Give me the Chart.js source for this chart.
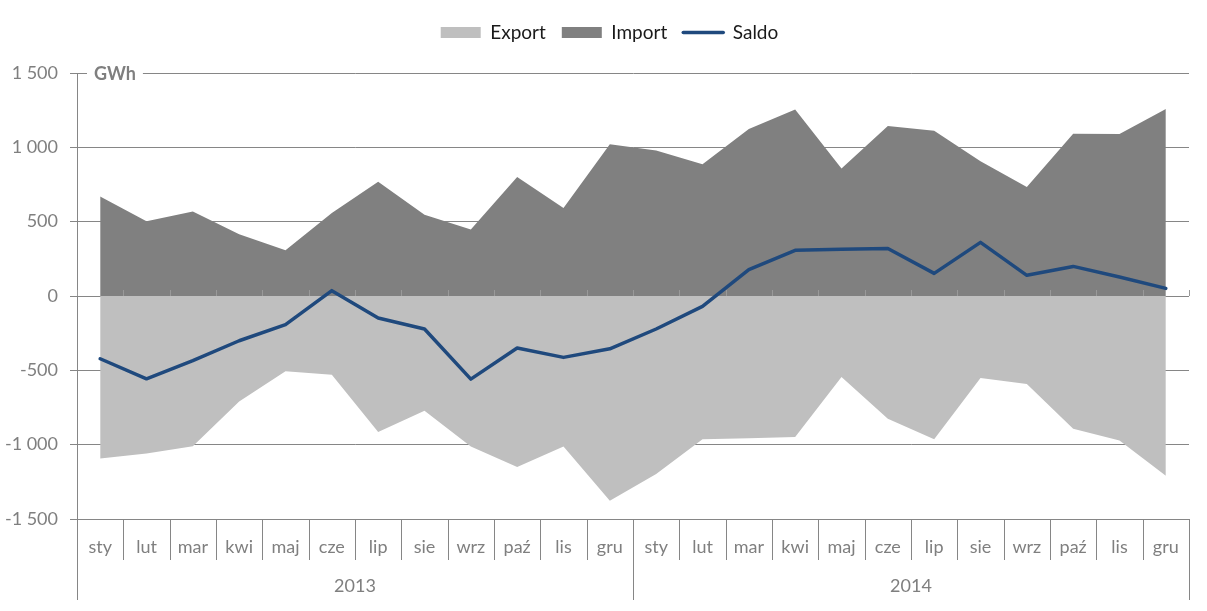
<!DOCTYPE html>
<html>
<head>
<meta charset="utf-8">
<script src="https://cdn.jsdelivr.net/npm/chart.js@4.4.1/dist/chart.umd.min.js"></script>
<style>
html,body{margin:0;padding:0;background:#fff;}
#wrap{width:1207px;height:611px;}
</style>
</head>
<body>
<div id="wrap"><canvas id="c" width="1207" height="611"></canvas></div>
<script>
// ---- data ----
const months = ['sty','lut','mar','kwi','maj','cze','lip','sie','wrz','paź','lis','gru'];
const years = ['2013','2014'];
const exportValues = [-1093,-1059,-1010,-709,-507,-530,-915,-772,-1012,-1151,-1012,-1378,
                      -1198,-963,-956,-948,-545,-826,-963,-552,-592,-893,-972,-1209];
const importValues = [670,502,569,415,307,559,769,547,448,801,592,1020,
                      978,886,1124,1254,857,1144,1112,906,733,1092,1090,1258];
const saldoValues = [-422,-557,-435,-301,-193,36,-148,-222,-559,-350,-413,-355,
                     -222,-70,177,307,314,320,152,361,139,199,128,51];
const yTickValues = [-1500,-1000,-500,0,500,1000,1500];
const yTickLabels = ['-1 500','-1 000','-500','0','500','1 000','1 500'];
const unitLabel = 'GWh';

const categories = years.flatMap(() => months);

const AXIS = '#868686';
const TEXT_GRAY = '#7f7f7f';
const FONT = 'Lato, "Open Sans", sans-serif';

const fixLegend = {
  id: 'fixLegend',
  beforeLayout(chart) {
    const lg = chart.legend;
    if (lg && !lg._patched) {
      const f = lg.fit;
      lg.fit = function () { f.call(this); this.height = 66; };
      lg._patched = true;
    }
  },
  afterLayout(chart) {
    const lg = chart.legend;
    if (lg) { lg.left += 15; lg.right += 15; }
  }
};

const decor = {
  id: 'decor',
  afterDatasetsDraw(chart) {
    const ctx = chart.ctx;
    const xs = chart.scales.x, ys = chart.scales.y;
    const n = categories.length;
    const step = (xs.getPixelForValue(1) - xs.getPixelForValue(0));
    const y0 = Math.round(ys.getPixelForValue(0));
    ctx.save();
    ctx.strokeStyle = '#999999';
    ctx.lineWidth = 1;
    for (let k = 0; k <= n; k++) {
      const bx = Math.round(xs.getPixelForValue(0) - step / 2 + k * step) + 0.5;
      ctx.beginPath(); ctx.moveTo(bx, y0 - 6); ctx.lineTo(bx, y0); ctx.stroke();
    }
    ctx.restore();
  },
  afterDraw(chart) {
    const ctx = chart.ctx;
    const xs = chart.scales.x, ys = chart.scales.y;
    const area = chart.chartArea;
    const n = categories.length;
    const step = (xs.getPixelForValue(1) - xs.getPixelForValue(0));
    const bottom = Math.round(area.bottom);
    ctx.save();
    ctx.strokeStyle = AXIS;
    ctx.lineWidth = 1;
    for (let k = 0; k <= n; k++) {
      const bx = Math.round(xs.getPixelForValue(0) - step / 2 + k * step) + 0.5;
      const isYear = (k % months.length === 0);
      ctx.beginPath();
      ctx.moveTo(bx, bottom);
      ctx.lineTo(bx, isYear ? 600 : 560);
      ctx.stroke();
    }
    // year labels
    ctx.fillStyle = TEXT_GRAY;
    ctx.font = '18px ' + FONT;
    ctx.textAlign = 'center';
    ctx.textBaseline = 'middle';
    years.forEach((yr, i) => {
      const a = xs.getPixelForValue(i * months.length);
      const b = xs.getPixelForValue((i + 1) * months.length - 1);
      ctx.fillText(yr, (a + b) / 2, 586);
    });
    // unit label on top gridline
    const yt = ys.getPixelForValue(1500);
    ctx.font = 'bold 18px ' + FONT;
    const w = ctx.measureText(unitLabel).width;
    ctx.fillStyle = '#ffffff';
    ctx.fillRect(area.left + 10, yt - 9, w + 14, 18);
    ctx.fillStyle = TEXT_GRAY;
    ctx.textAlign = 'left';
    ctx.fillText(unitLabel, area.left + 17, yt + 1);
    ctx.restore();
  }
};

Chart.defaults.font.family = FONT;

new Chart(document.getElementById('c'), {
  type: 'line',
  data: {
    labels: categories,
    datasets: [
      { label: 'Export', data: exportValues, fill: 'origin', backgroundColor: '#BFBFBF',
        borderColor: 'rgba(0,0,0,0)', borderWidth: 0, pointRadius: 0, tension: 0, order: 3 },
      { label: 'Import', data: importValues, fill: 'origin', backgroundColor: '#808080',
        borderColor: 'rgba(0,0,0,0)', borderWidth: 0, pointRadius: 0, tension: 0, order: 2 },
      { label: 'Saldo', data: saldoValues, fill: false, borderColor: '#1F497D',
        borderWidth: 3.5, pointRadius: 0, tension: 0, order: 1,
        borderJoinStyle: 'round', borderCapStyle: 'round' }
    ]
  },
  options: {
    responsive: false,
    animation: false,
    devicePixelRatio: 1,
    events: [],
    layout: { padding: { left: 0, right: 18, top: 7, bottom: 0 } },
    plugins: {
      tooltip: { enabled: false },
      legend: {
        position: 'top',
        align: 'center',
        labels: {
          usePointStyle: true,
          pointStyleWidth: 40,
          boxHeight: 11,
          padding: 16,
          color: '#1a1a1a',
          font: { size: 19, family: FONT },
          sort: (a, b) => a.datasetIndex - b.datasetIndex,
          generateLabels(chart) {
            return chart.data.datasets.map((ds, i) => {
              const isLine = ds.fill === false;
              const col = isLine ? ds.borderColor : ds.backgroundColor;
              return {
                text: ds.label, datasetIndex: i, hidden: false,
                fillStyle: col, strokeStyle: col,
                lineWidth: isLine ? 3.5 : 0,
                lineCap: 'round',
                pointStyle: isLine ? 'line' : 'rect',
                fontColor: '#1a1a1a'
              };
            });
          }
        }
      }
    },
    scales: {
      x: {
        type: 'category',
        offset: true,
        grid: { display: false, drawTicks: false },
        border: { display: true, color: AXIS, width: 1 },
        ticks: { padding: 17, color: TEXT_GRAY, font: { size: 18, family: FONT },
                 maxRotation: 0, autoSkip: false },
        afterFit(s) { s.height = 92; }
      },
      y: {
        min: -1500, max: 1500,
        afterBuildTicks(s) { s.ticks = yTickValues.map(v => ({ value: v })); },
        grid: { color: AXIS, lineWidth: 1, drawTicks: true, tickLength: 7 },
        border: { display: true, color: AXIS, width: 1 },
        ticks: {
          padding: 12, color: TEXT_GRAY, font: { size: 18, family: FONT },
          callback: (v) => { const i = yTickValues.indexOf(v); return i >= 0 ? yTickLabels[i] : ''; }
        },
        afterFit(s) { s.width = 77; }
      }
    }
  },
  plugins: [fixLegend, decor]
});
</script>
</body>
</html>
